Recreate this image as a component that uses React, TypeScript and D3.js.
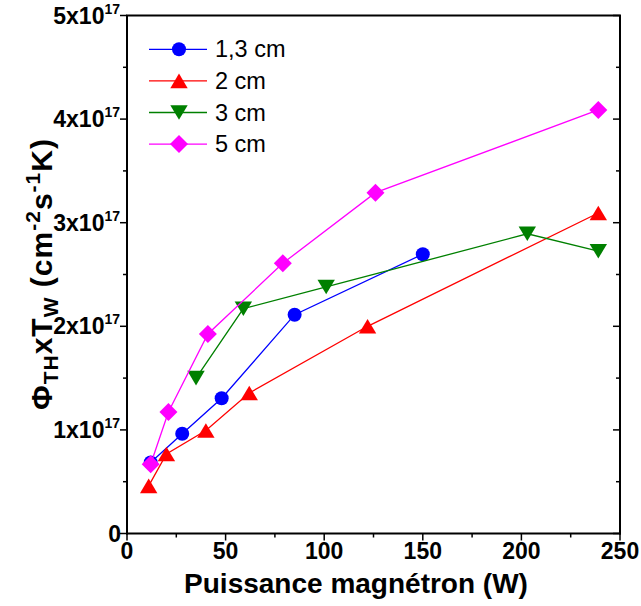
import React from "react";
import * as d3 from "d3";

const W = 641;
const H = 606;

const seriesNames = ["1,3 cm", "2 cm", "3 cm", "5 cm"];
const seriesColors = ["#0000FF", "#FF0000", "#008000", "#FF00FF"];
const seriesShapes = ["circle", "triUp", "triDown", "diamond"];

const blueX = [12, 28, 48, 85, 150];
const blueY = [0.685e17, 0.963e17, 1.305e17, 2.112e17, 2.696e17];
const redX = [11, 20, 40, 62, 122, 239];
const redY = [0.46e17, 0.767e17, 0.994e17, 1.356e17, 2.0e17, 3.094e17];
const greenX = [35, 59, 101, 203, 239];
const greenY = [1.5e17, 2.17e17, 2.38e17, 2.893e17, 2.725e17];
const magentaX = [12, 21, 41, 79, 126, 239];
const magentaY = [0.668e17, 1.173e17, 1.926e17, 2.608e17, 3.29e17, 4.088e17];

const xTicks = [0, 50, 100, 150, 200, 250];
const xMinor = [25, 75, 125, 175, 225];
const yTicks = [0, 1e17, 2e17, 3e17, 4e17, 5e17];
const yMinor = [0.5e17, 1.5e17, 2.5e17, 3.5e17, 4.5e17];
const yTickMantissa = ["0", "1", "2", "3", "4", "5"];

const xLabel = "Puissance magnétron (W)";

const FONT = "'Liberation Sans', Arial, sans-serif";

const plot = { left: 127, right: 620, top: 15.5, bottom: 533.5 };

function Marker({ shape, x, y, color }: { shape: string; x: number; y: number; color: string }) {
  if (shape === "circle") return <circle cx={x} cy={y} r={7} fill={color} />;
  if (shape === "triUp") {
    const w = 8.7, h = 7.3;
    return <path d={`M${x},${y - h}L${x + w},${y + h}L${x - w},${y + h}Z`} fill={color} />;
  }
  if (shape === "triDown") {
    const w = 8.7, h = 7.3;
    return <path d={`M${x},${y + h}L${x + w},${y - h}L${x - w},${y - h}Z`} fill={color} />;
  }
  const r = 9;
  return <path d={`M${x},${y - r}L${x + r},${y}L${x},${y + r}L${x - r},${y}Z`} fill={color} />;
}

export default function App() {
  const x = d3.scaleLinear().domain([0, 250]).range([plot.left, plot.right]);
  const y = d3.scaleLinear().domain([0, 5e17]).range([plot.bottom, plot.top]);
  const line = d3
    .line<[number, number]>()
    .x((d) => x(d[0]))
    .y((d) => y(d[1]));

  const series = [
    { xs: blueX, ys: blueY },
    { xs: redX, ys: redY },
    { xs: greenX, ys: greenY },
    { xs: magentaX, ys: magentaY },
  ];

  const legendX0 = 149;
  const legendX1 = 207;
  const legendY0 = 49.3;
  const legendStep = 31.6;

  return (
    <svg
      width={W}
      height={H}
      style={{ position: "absolute", left: 0, top: 0, background: "#fff" }}
      fontFamily={FONT}
    >
      <rect x={0} y={0} width={W} height={H} fill="#fff" />
      {/* data */}
      {series.map((s, i) => {
        const pts: [number, number][] = s.xs.map((v, j) => [v, s.ys[j]]);
        return (
          <g key={i}>
            <path d={line(pts) || ""} fill="none" stroke={seriesColors[i]} strokeWidth={1.3} />
            {pts.map((p, j) => (
              <Marker key={j} shape={seriesShapes[i]} x={x(p[0])} y={y(p[1])} color={seriesColors[i]} />
            ))}
          </g>
        );
      })}

      {/* frame */}
      <g stroke="#000" strokeWidth={2} fill="none">
        <line x1={plot.left} x2={plot.left} y1={plot.top} y2={plot.bottom + 1} />
        <line x1={plot.left - 1} x2={plot.right + 1} y1={plot.bottom} y2={plot.bottom} />
        <line x1={plot.left - 1} x2={plot.right + 1} y1={plot.top} y2={plot.top} />
        <line x1={plot.right} x2={plot.right} y1={plot.top} y2={plot.bottom + 1} />
      </g>

      {/* ticks */}
      <g stroke="#000" strokeWidth={1.5}>
        {xTicks.map((t) => (
          <line key={"xt" + t} x1={x(t)} x2={x(t)} y1={plot.bottom} y2={plot.bottom + 7} />
        ))}
        {xMinor.map((t) => (
          <line key={"xm" + t} x1={x(t)} x2={x(t)} y1={plot.bottom} y2={plot.bottom + 4} />
        ))}
        {yTicks.map((t) => (
          <line key={"yt" + t} x1={plot.left - 7} x2={plot.left} y1={y(t)} y2={y(t)} />
        ))}
        {yMinor.map((t) => (
          <line key={"ym" + t} x1={plot.left - 4} x2={plot.left} y1={y(t)} y2={y(t)} />
        ))}
        {yTicks.map((t) => (
          <line key={"yrt" + t} x1={plot.right - 7} x2={plot.right} y1={y(t)} y2={y(t)} />
        ))}
        {yMinor.map((t) => (
          <line key={"yrm" + t} x1={plot.right - 4} x2={plot.right} y1={y(t)} y2={y(t)} />
        ))}
      </g>

      {/* x tick labels */}
      <g fontWeight="bold" fontSize={23} textAnchor="middle">
        {xTicks.map((t) => (
          <text key={"xl" + t} x={x(t)} y={plot.bottom + 25}>
            {t}
          </text>
        ))}
      </g>

      {/* y tick labels */}
      <g fontWeight="bold" fontSize={23} textAnchor="end">
        {yTicks.map((t, i) =>
          t === 0 ? (
            <text key={"yl" + t} x={plot.left - 6} y={y(t) + 8}>
              0
            </text>
          ) : (
            <text key={"yl" + t} x={plot.left - 7} y={y(t) + 8}>
              {yTickMantissa[i]}x10
              <tspan fontSize={14} dy={-10}>
                17
              </tspan>
            </text>
          )
        )}
      </g>

      {/* axis titles */}
      <text x={356} y={593} textAnchor="middle" fontWeight="bold" fontSize={28}>
        {xLabel}
      </text>
      <text
        transform={`translate(52, 274) rotate(-90)`}
        textAnchor="middle"
        fontWeight="bold"
        fontSize={30}
        letterSpacing={1}
      >
        Φ
        <tspan fontSize={21} dy={6}>TH</tspan>
        <tspan dy={-6}>xT</tspan>
        <tspan fontSize={21} dy={6}>W</tspan>
        <tspan dy={-6}> (cm</tspan>
        <tspan fontSize={21} dy={-12}>-2</tspan>
        <tspan dy={12}>s</tspan>
        <tspan fontSize={21} dy={-12}>-1</tspan>
        <tspan dy={12}>K)</tspan>
      </text>

      {/* legend */}
      {seriesNames.map((name, i) => {
        const ly = legendY0 + i * legendStep;
        return (
          <g key={"lg" + i}>
            <line x1={legendX0} x2={legendX1} y1={ly} y2={ly} stroke={seriesColors[i]} strokeWidth={1.3} />
            <Marker shape={seriesShapes[i]} x={(legendX0 + legendX1) / 2 + 1} y={ly} color={seriesColors[i]} />
            <text x={215} y={ly + 8} fontSize={23.5}>
              {name}
            </text>
          </g>
        );
      })}
    </svg>
  );
}
